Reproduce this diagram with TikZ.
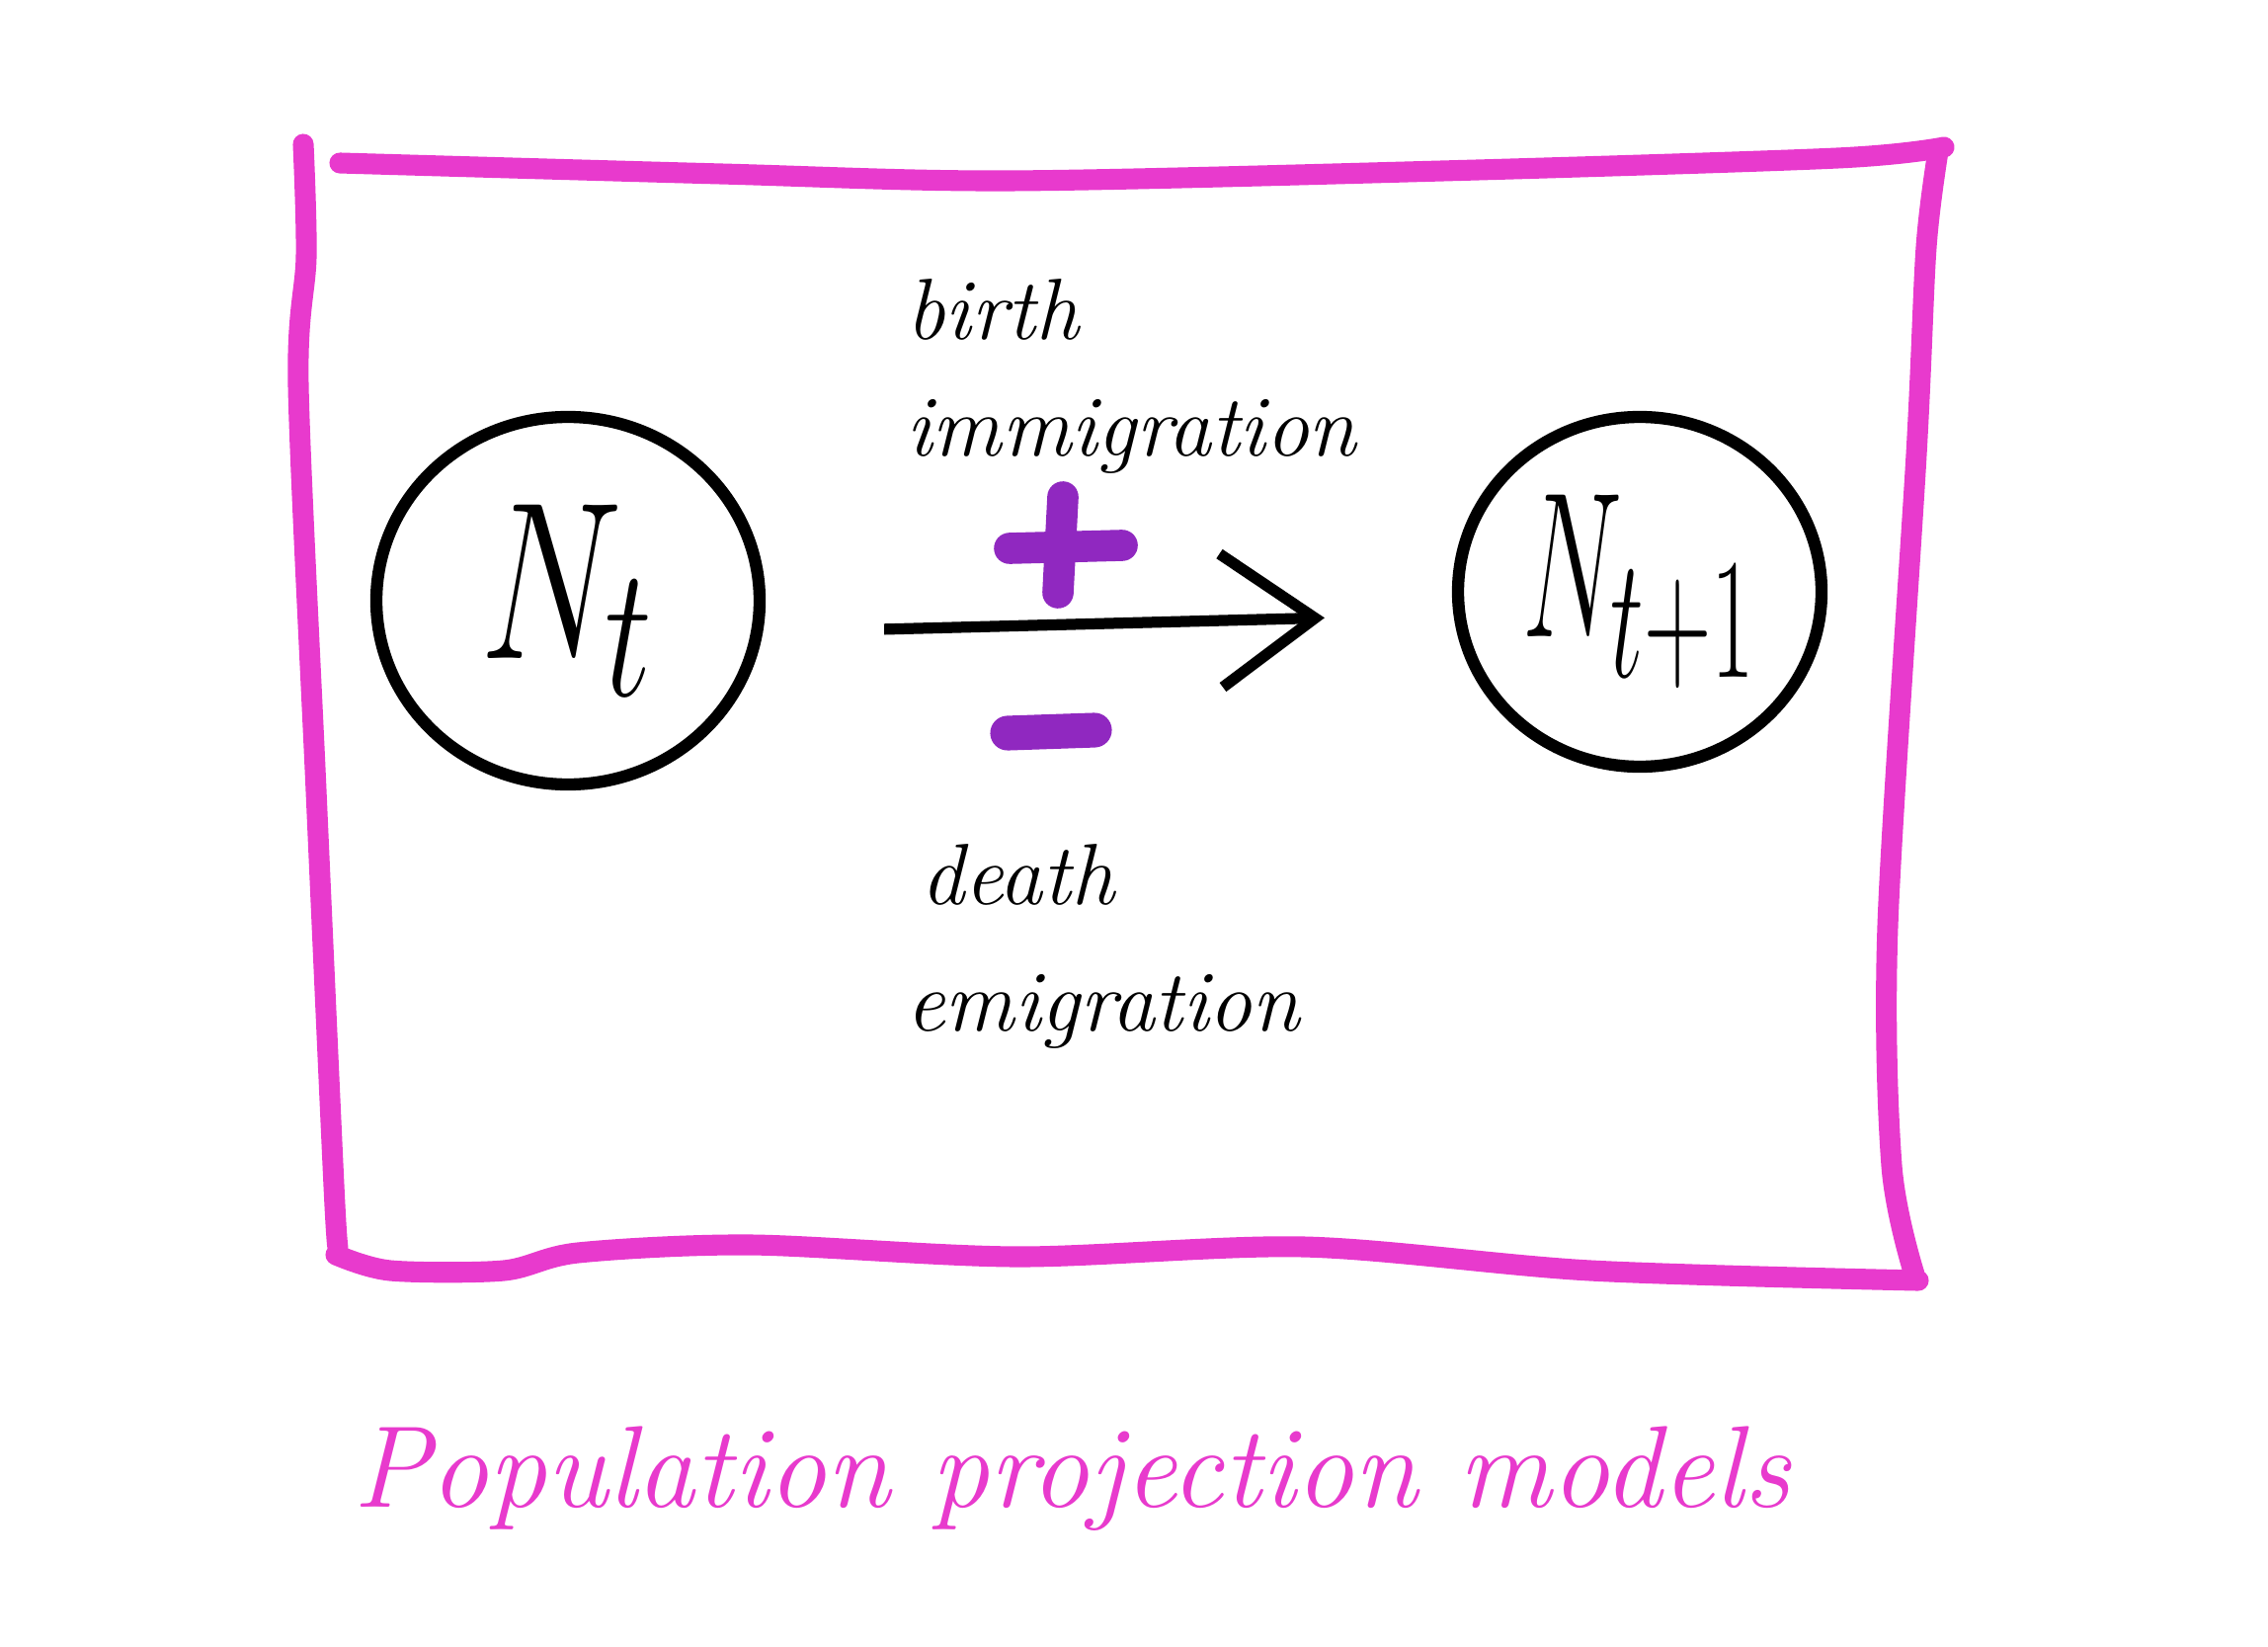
\documentclass[tikz,border=0pt]{standalone}
\usepackage{graphicx}
\usetikzlibrary{arrows.meta,shapes.geometric}
\definecolor{hotpink}{HTML}{E83ACD}
\definecolor{plum}{HTML}{9028C0}
\tikzset{
 pop/.style={ellipse,draw,line width=3.5pt,inner sep=0pt},
 lbl/.style={anchor=base west,font=\fontsize{25}{28}\selectfont\itshape},
 frame/.style={draw=hotpink,line width=6pt,line cap=round,line join=round},
 sign/.style={draw=plum,line width=9pt,line cap=round}
}
\begin{document}
\begin{tikzpicture}
\useasboundingbox (0,0) rectangle (22.96,-16.66);
\draw[frame] plot[smooth,tension=0.5] coordinates {(3.07,-1.46) (3.10,-2.6) (3.02,-3.9) (3.2,-8.0) (3.38,-12.0) (3.42,-12.62)};
\draw[frame] plot[smooth,tension=0.5] coordinates {(3.40,-12.70) (3.95,-12.86) (5.1,-12.86) (5.85,-12.68)
 (7.6,-12.6) (10.3,-12.72) (13.2,-12.62) (16.1,-12.86) (19.42,-12.96)};
\draw[frame] plot[smooth,tension=0.5] coordinates {(19.38,-12.90) (19.15,-11.8) (19.11,-9.37) (19.40,-4.6) (19.50,-2.5) (19.62,-1.53)};
\draw[frame] plot[smooth,tension=0.5] coordinates {(19.68,-1.49) (18.6,-1.60) (14.6,-1.73) (10.2,-1.83) (7.3,-1.76) (3.44,-1.65)};
\node[pop,minimum width=3.88cm,minimum height=3.72cm] (Nt) at (5.75,-6.08)
 {\scalebox{1.85}[2.6]{\Huge$N_t$}};
\node[pop,minimum width=3.68cm,minimum height=3.54cm] (Nnext) at (16.60,-5.99)
 {\scalebox{1.3}[2.4]{\Huge$N_{t+1}$}};
\draw[line width=3.2pt,-{Straight Barb[length=0.95cm,width=1.35cm]},shorten <=1.2cm,shorten >=1.29cm]
 ([yshift=-0.32cm]Nt.east) -- ([yshift=-0.23cm]Nnext.west);
\draw[sign] (10.22,-5.55) -- (11.36,-5.52) (10.76,-5.03) -- (10.71,-6.0);
\draw[sign,line width=10pt] (10.20,-7.42) -- (11.08,-7.39);
\node[lbl] (birth) at (9.05,-3.44) {birth};
\node[lbl] (immig) at (9.05,-4.61) {immigration};
\node[lbl] (death) at (9.20,-9.15) {death};
\node[lbl] (emig) at (9.05,-10.43) {emigration};
\node[anchor=base,text=hotpink,font=\fontsize{33.5}{38}\selectfont\itshape] (title)
 at (10.85,-15.25) {Population projection models};
\end{tikzpicture}
\end{document}
